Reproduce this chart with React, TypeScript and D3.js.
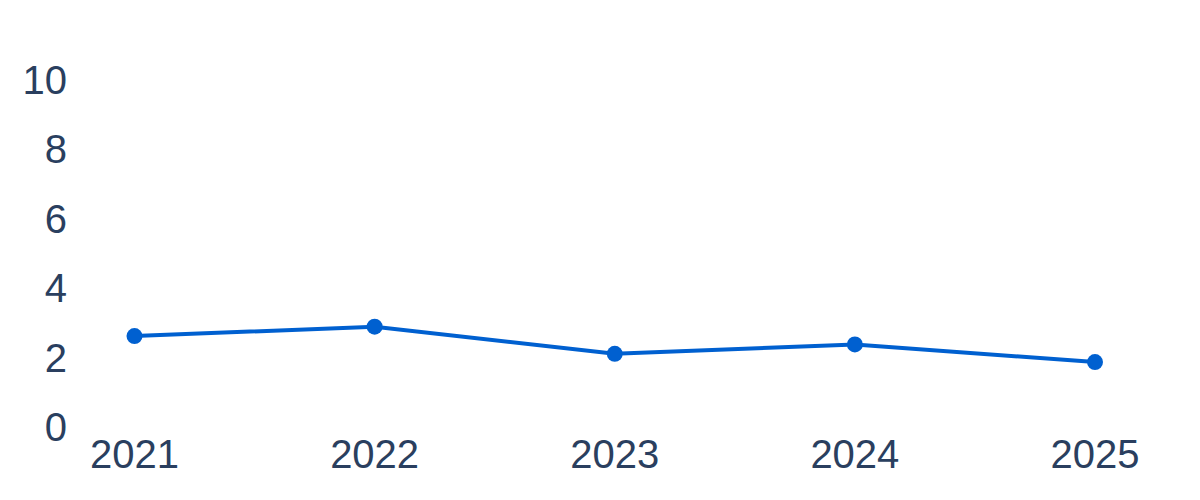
import React from "react";
import * as d3 from "d3";

const years = ["2021", "2022", "2023", "2024", "2025"];
const values = [2.62, 2.89, 2.11, 2.38, 1.87];
const yTicks = [0, 2, 4, 6, 8, 10];

const W = 1200;
const H = 500;

export default function App() {
  const x = d3.scalePoint<string>().domain(years).range([134.5, 1095]);
  const y = d3.scaleLinear().domain([0, 10]).range([427, 80]);
  const line = d3
    .line<number>()
    .x((_, i) => x(years[i]) as number)
    .y((d) => y(d));
  const font = "'Liberation Sans', Arial, sans-serif";
  const textColor = "#2a3f5f";
  const lineColor = "#0060d0";
  return (
    <svg
      width={W}
      height={H}
      style={{ position: "absolute", left: 0, top: 0 }}
      fontFamily={font}
    >
      <rect width={W} height={H} fill="#fff" />
      {yTicks.map((t) => (
        <text
          key={t}
          x={67}
          y={y(t) + 14}
          textAnchor="end"
          fontSize={40}
          fill={textColor}
        >
          {t}
        </text>
      ))}
      {years.map((yr) => (
        <text
          key={yr}
          x={x(yr) as number}
          y={468}
          textAnchor="middle"
          fontSize={40}
          fill={textColor}
        >
          {yr}
        </text>
      ))}
      <path d={line(values) || ""} fill="none" stroke={lineColor} strokeWidth={4} />
      {values.map((v, i) => (
        <circle key={i} cx={x(years[i]) as number} cy={y(v)} r={8} fill={lineColor} />
      ))}
    </svg>
  );
}
